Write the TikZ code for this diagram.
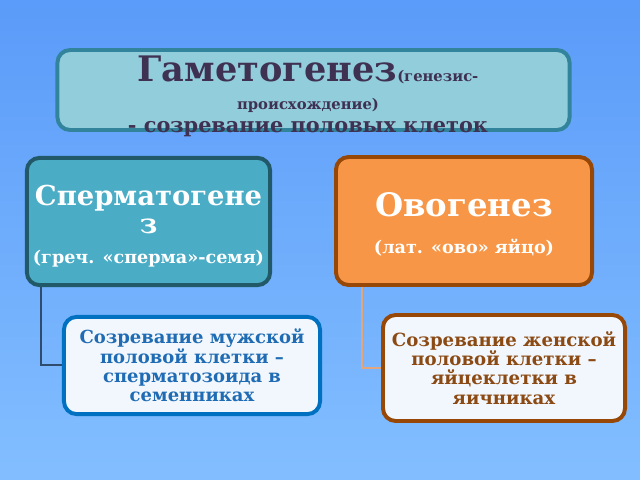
\documentclass[tikz,border=0pt]{standalone}
\usepackage{fontspec}
\setmainfont{DejaVu Serif}
\usetikzlibrary{positioning, calc}

\definecolor{fondoarriba}{HTML}{5B9BF9}
\definecolor{fondoabajo}{HTML}{82BEFF}
\definecolor{titulofondo}{HTML}{92CDDC}
\definecolor{tituloborde}{HTML}{31849B}
\definecolor{titulotexto}{HTML}{3F3151}
\definecolor{azulfondo}{HTML}{4BACC6}
\definecolor{azulborde}{HTML}{215968}
\definecolor{naranjafondo}{HTML}{F79646}
\definecolor{naranjaborde}{HTML}{984806}
\definecolor{celeste}{HTML}{F2F7FD}
\definecolor{azulfuerte}{HTML}{0070C0}
\definecolor{azultexto}{HTML}{1F6CB4}
\definecolor{marrontexto}{HTML}{8B4A13}
\definecolor{lineaizq}{HTML}{2F4B6E}
\definecolor{lineader}{HTML}{E3A57A}

\pgfdeclarelayer{fondo}
\pgfdeclarelayer{lineas}
\pgfsetlayers{fondo,lineas,main}

\begin{document}
\begin{tikzpicture}[
		x=0.025cm, y=-0.025cm,
		% --- Estilos ---
		caja/.style={
			draw,
			rectangle,
			rounded corners=9pt,
			line width=2.8pt,
			align=center,
			inner sep=0pt
		},
		caja_titulo/.style={caja, fill=titulofondo, draw=tituloborde,
			minimum width=12.8cm, minimum height=2cm},
		caja_azul/.style={caja, fill=azulfondo, draw=azulborde, text=white,
			minimum width=6.08cm, minimum height=3.18cm},
		caja_naranja/.style={caja, fill=naranjafondo, draw=naranjaborde, text=white,
			minimum width=6.4cm, minimum height=3.2cm},
		caja_hombre/.style={caja, fill=celeste, draw=azulfuerte, text=azultexto,
			minimum width=6.4cm, minimum height=2.43cm},
		caja_mujer/.style={caja, fill=celeste, draw=naranjaborde, text=marrontexto,
			minimum width=6.05cm, minimum height=2.65cm},
		linea_izq/.style={draw=lineaizq, line width=1.2pt},
		linea_der/.style={draw=lineader, line width=1.2pt}
		]
		% 0. Fondo degradado
		\begin{pgfonlayer}{fondo}
			\shade[top color=fondoarriba, bottom color=fondoabajo] (0,0) rectangle (640,480);
		\end{pgfonlayer}
		\useasboundingbox (0,0) rectangle (640,480);
		
		% 1. Caja del titulo y su texto (que se sale por abajo)
		\node[caja_titulo] (gameto) at (313.5,90) {};
		\node[align=center, text=titulotexto, inner sep=0pt, anchor=base,
		font=\bfseries\fontsize{25}{21.3}\selectfont] (gametotexto) at (308,132)
		{Гаметогенез{\fontsize{10.5}{12}\selectfont(генезис-}\\[-1pt]
			{\fontsize{10.5}{12}\selectfont происхождение)}\\[-5.5pt]
			{\fontsize{14.8}{17}\selectfont - созревание половых клеток}};
		
		% 2. Cajas de los dos procesos
		\node[caja_azul, font=\bfseries\fontsize{19.5}{20.5}\selectfont] (esperma) at (148.5,221.5)
		{\rule{0pt}{21pt}Сперматогене\\[-0.5pt]з\\[0.8pt]
			{\fontsize{12.5}{14}\selectfont (греч. «сперма»-семя)}};
		\node[caja_naranja, font=\bfseries\fontsize{23}{23.4}\selectfont] (ovo) at (464,221)
		{\rule{0pt}{22pt}Овогенез\\[3pt]
			{\fontsize{12.5}{14}\selectfont (лат. «ово» яйцо)}};
		
		% 3. Cajas de la maduracion
		\node[caja_hombre, font=\bfseries\fontsize{12.8}{13.8}\selectfont] (madura_h) at (192,365.5)
		{Созревание мужской\\половой клетки –\\сперматозоида в\\семенниках};
		\node[caja_mujer, font=\bfseries\fontsize{12.9}{13.8}\selectfont] (madura_m) at (504,368)
		{Созревание женской\\половой клетки –\\яйцеклетки в\\яичниках};
		
		% 4. Conectores en codo (por debajo de las cajas)
		\coordinate (codo_izq) at (41,365);
		\coordinate (codo_der) at (362,368);
		\begin{pgfonlayer}{lineas}
			\draw[linea_izq] (codo_izq |- esperma.south) -- (codo_izq) -- (madura_h.west |- codo_izq);
			\draw[linea_der] (codo_der |- ovo.south) -- (codo_der) -- (madura_m.west |- codo_der);
		\end{pgfonlayer}
\end{tikzpicture}
\end{document}
